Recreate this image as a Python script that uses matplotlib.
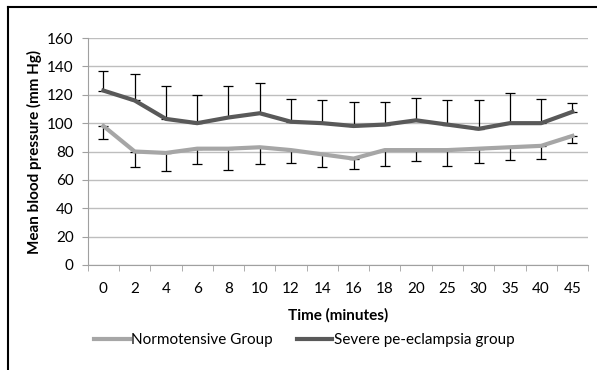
import matplotlib
matplotlib.use("Agg")
import matplotlib.pyplot as plt
from matplotlib.lines import Line2D
import numpy as np

plt.rcParams['font.family'] = ['Lato', 'DejaVu Sans']

times = ['0', '2', '4', '6', '8', '10', '12', '14', '16', '18', '20', '25', '30', '35', '40', '45']
normo = [98, 80, 79, 82, 82, 83, 81, 78, 75, 81, 81, 81, 82, 83, 84, 91]
normo_low = [89, 69, 66, 71, 67, 71, 72, 69, 68, 70, 73, 70, 72, 74, 75, 86]
severe = [123, 116, 103, 100, 104, 107, 101, 100, 98, 99, 102, 99, 96, 100, 100, 108]
severe_high = [137, 135, 126, 120, 126, 128, 117, 116, 115, 115, 118, 116, 116, 121, 117, 114]

x = np.arange(len(times))
normo_err = [np.array(normo) - np.array(normo_low), np.zeros(len(x))]
severe_err = [np.zeros(len(x)), np.array(severe_high) - np.array(severe)]

fig = plt.figure(figsize=(5.97, 3.70), dpi=100)
ax = fig.add_axes([0.147, 0.284, 0.838, 0.613])

ax.errorbar(x, normo, yerr=normo_err, color='#A6A6A6', lw=3, ecolor='black',
            elinewidth=0.9, capsize=3.5, capthick=0.9, label='Normotensive Group', zorder=3)
ax.errorbar(x, severe, yerr=severe_err, color='#595959', lw=3, ecolor='black',
            elinewidth=0.9, capsize=3.5, capthick=0.9, label='Severe pe-eclampsia group', zorder=3)

ax.set_xlim(-0.5, len(x) - 0.5)
ax.set_ylim(0, 160)
ax.set_yticks(range(0, 161, 20))
ax.set_xticks(x)
ax.set_xticklabels(times)
ax.set_xticks(np.arange(-0.5, len(x), 1), minor=True)
ax.tick_params(axis='x', which='major', length=0, labelsize=11, pad=12)
ax.tick_params(axis='x', which='minor', length=4, color='#A0A0A0')
ax.tick_params(axis='y', length=4, color='#A0A0A0', labelsize=11, pad=6)
ax.yaxis.grid(True, color='#BEBEBE', lw=1)
ax.set_axisbelow(True)
for s in ['top', 'right']:
    ax.spines[s].set_visible(False)
for s in ['left', 'bottom']:
    ax.spines[s].set_color('#A0A0A0')

ax.set_xlabel('Time (minutes)', fontsize=11, fontweight='bold', labelpad=9)
ax.set_ylabel('Mean blood pressure (mm Hg)', fontsize=11, fontweight='bold', labelpad=4)

h, l = ax.get_legend_handles_labels()
h = [hh[0] for hh in h]
fig.legend(h, l, loc='center', bbox_to_anchor=(0.51, 0.08), ncol=2, frameon=False,
           fontsize=11, handlelength=2.3, handletextpad=0.1, columnspacing=1.6)

# chart frame: only top and left edges visible
fig.add_artist(Line2D([8 / 597, 1], [1 - 7 / 370, 1 - 7 / 370], transform=fig.transFigure,
                      color='black', lw=1.5))
fig.add_artist(Line2D([8 / 597, 8 / 597], [0, 1 - 7 / 370], transform=fig.transFigure,
                      color='black', lw=1.5))

fig.savefig('out.png', dpi=100)
